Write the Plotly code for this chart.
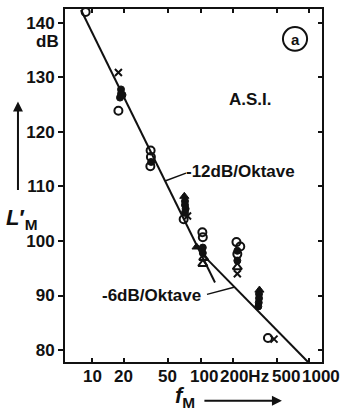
import math
import plotly.graph_objects as go

# ---------------- data ----------------
open_circ_f = [8.8, 17.6, 34.8, 35.0, 34.6, 70.0, 104, 105, 214, 232, 218, 417]
open_circ_L = [142.0, 123.9, 116.6, 115.4, 113.7, 104.0, 101.6, 100.7, 99.8, 99.0, 97.6, 82.2]

fill_circ_f = [18.6, 18.6, 18.2, 19.2, 35.2, 72, 72, 73, 72, 105, 105, 218, 218, 345, 345, 343, 340]
fill_circ_L = [127.8, 127.0, 126.3, 126.8, 114.5, 107.3, 106.6, 105.9, 105.2, 98.8, 97.8, 98.2, 96.4, 90.3, 89.5, 88.7, 88.0]

cross_f = [17.6, 76, 218, 474]
cross_L = [130.9, 104.6, 94.0, 82.0]

open_tri_f = [105, 107, 218]
open_tri_L = [95.8, 96.9, 95.2]

fill_tri_f = [71, 92, 348]
fill_tri_L = [108.2, 98.9, 91.0]

# fitted lines as drawn
line12_f = [7.98, 135.9]
line12_L = [142.37, 92.4]
line6_f = [98.9, 973]
line6_L = [98.0, 77.8]

# label leader lines
lead12_f = [47.2, 73.6]
lead12_L = [111.0, 112.45]
lead6_f = [114.8, 203]
lead6_L = [90.21, 91.5]

x_tick_vals = [10, 20, 50, 100, 200, 500, 1000]
x_tick_text = ["10", "20", "50", "100", "200Hz", "500", "1000"]
y_tick_vals = [80, 90, 100, 110, 120, 130, 140]

X_RANGE = [0.7546, 3.1167]
Y_RANGE = [77.81, 142.55]

FONT = "Liberation Sans, Arial, sans-serif"
BLACK = "#111111"

fig = go.Figure()

def pts(f, L, symbol, size=8, lw=1.5):
    fig.add_trace(go.Scatter(x=f, y=L, mode="markers", showlegend=False,
                             marker=dict(symbol=symbol, size=size, color=BLACK,
                                         line=dict(color=BLACK, width=lw))))

fig.add_trace(go.Scatter(x=line12_f, y=line12_L, mode="lines", showlegend=False,
                         line=dict(color=BLACK, width=2)))
fig.add_trace(go.Scatter(x=line6_f, y=line6_L, mode="lines", showlegend=False,
                         line=dict(color=BLACK, width=2)))
fig.add_trace(go.Scatter(x=lead12_f, y=lead12_L, mode="lines", showlegend=False,
                         line=dict(color=BLACK, width=1.5)))
fig.add_trace(go.Scatter(x=lead6_f, y=lead6_L, mode="lines", showlegend=False,
                         line=dict(color=BLACK, width=1.5)))

pts(open_circ_f, open_circ_L, "circle-open", 8, 2)
pts(fill_circ_f, fill_circ_L, "circle", 7, 1)
pts(cross_f, cross_L, "x-thin-open", 7, 2)
pts(open_tri_f, open_tri_L, "triangle-up-open", 8, 2)
pts(fill_tri_f, fill_tri_L, "triangle-up", 8, 1)

# dummy trace for right axis
fig.add_trace(go.Scatter(x=[100], y=[100], yaxis="y2", mode="markers",
                         marker=dict(opacity=0), showlegend=False, hoverinfo="skip"))

BF = dict(size=17, family=FONT, color=BLACK, weight="bold")

annotations = []
# x tick labels (shifted as in the original)
x_shifts = [1, -1, 0, 3, 0, 9, 12]
for v, t, s in zip(x_tick_vals, x_tick_text, x_shifts):
    if t.endswith("Hz"):
        annotations.append(dict(x=math.log10(v), y=-0.041, xref="x", yref="paper",
                                text=t, showarrow=False, xanchor="left", yanchor="middle",
                                xshift=-15, font=BF))
    else:
        annotations.append(dict(x=math.log10(v), y=-0.041, xref="x", yref="paper",
                                text=t, showarrow=False, xanchor="center", yanchor="middle",
                                xshift=s, font=BF))

annotations += [
    dict(x=-0.07, y=0.908, xref="paper", yref="paper", text="dB", showarrow=False,
         xanchor="center", yanchor="middle", font=BF),
    dict(x=2.455, y=125.96, xref="x", yref="y", text="A.S.I.", showarrow=False, font=BF),
    dict(x=2.363, y=112.8, xref="x", yref="y", text="-12dB/Oktave", showarrow=False, font=BF),
    dict(x=1.545, y=90.0, xref="x", yref="y", text="-6dB/Oktave", showarrow=False, font=BF),
    dict(x=0.895, y=0.915, xref="paper", yref="paper", text="a", showarrow=False,
         xanchor="center", yanchor="middle",
         font=dict(size=15, family=FONT, color=BLACK, weight="bold")),
    dict(x=-0.236, y=0.405, xref="paper", yref="paper", text="<i>L</i>′<sub>M</sub>",
         xanchor="left", showarrow=False,
         font=dict(size=22, family=FONT, color=BLACK, weight="bold")),
    dict(x=0.467, y=-0.145, xref="paper", yref="paper", text="<i>f</i><sub>M</sub>",
         showarrow=False, font=dict(size=22, family=FONT, color=BLACK, weight="bold")),
    # arrows
    dict(x=-0.183, y=0.738, xref="paper", yref="paper", text="", showarrow=True,
         ax=0, ay=90, arrowhead=2, arrowsize=1, arrowwidth=2, arrowcolor=BLACK),
    dict(x=0.844, y=-0.110, xref="paper", yref="paper", text="", showarrow=True,
         ax=-79, ay=0, arrowhead=2, arrowsize=1, arrowwidth=2, arrowcolor=BLACK),
]

shapes = [
    dict(type="circle", xref="paper", yref="paper", x0=0.848, x1=0.942, y0=0.882, y1=0.949,
         line=dict(color=BLACK, width=2)),
]

fig.update_layout(
    width=343, height=417,
    margin=dict(l=65, r=21, t=7, b=55),
    paper_bgcolor="white", plot_bgcolor="white",
    font=dict(family=FONT, size=17, color=BLACK),
    annotations=annotations, shapes=shapes,
    xaxis=dict(type="log", range=X_RANGE, showgrid=False, zeroline=False,
               showline=True, linecolor=BLACK, linewidth=2, mirror="ticks",
               ticks="inside", ticklen=4, tickwidth=1.5, tickcolor=BLACK,
               tickvals=x_tick_vals, showticklabels=False),
    yaxis=dict(range=Y_RANGE, showgrid=False, zeroline=False,
               showline=True, linecolor=BLACK, linewidth=2, mirror=True,
               ticks="outside", ticklen=5, tickwidth=1.5, tickcolor=BLACK,
               tickvals=y_tick_vals, tickfont=BF),
    yaxis2=dict(range=Y_RANGE, overlaying="y", side="right", showgrid=False,
                zeroline=False, showline=False, ticks="inside", ticklen=4,
                tickwidth=1.5, tickcolor=BLACK, tickvals=y_tick_vals,
                showticklabels=False),
)

fig.write_html("out.html", config={"displayModeBar": False},
               post_script="document.body.style.margin='0';")
